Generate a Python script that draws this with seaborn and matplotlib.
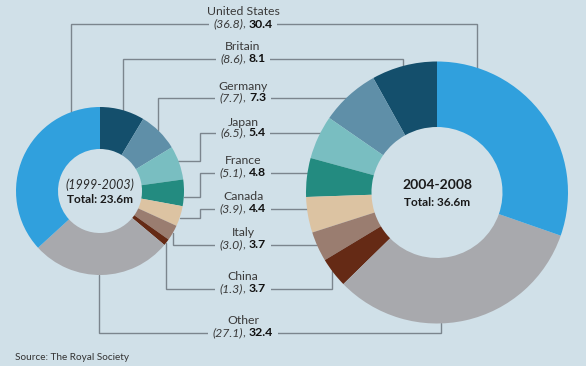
import numpy as np
import matplotlib
matplotlib.use("Agg")
import matplotlib.pyplot as plt
import seaborn as sns
from matplotlib.offsetbox import TextArea, HPacker, AnnotationBbox

# ---------------- data ----------------
countries = ["Britain", "Germany", "Japan", "France", "Canada",
             "Italy", "China", "Other", "United States"]
share_1999_2003 = [8.6, 7.7, 6.5, 5.1, 3.9, 3.0, 1.3, 27.1, 36.8]
share_2004_2008 = [8.1, 7.3, 5.4, 4.8, 4.4, 3.7, 3.7, 32.4, 30.4]
slice_colors = ["#144f6c", "#5f8fa8", "#79bec1", "#238b80", "#dcc3a2",
                "#9a7d70", "#652a15", "#a8a9ad", "#30a0dd"]
periods = ["(1999-2003)", "2004-2008"]
totals = [23.6, 36.6]
source_text = "Source: The Royal Society"

# ---------------- layout (pixels from top-left) ----------------
W, H = 586, 366
BG = "#d0e0e8"
LINE = "#7b858d"
LEFT = dict(cx=100, cy=191, r=84)
RIGHT = dict(cx=437, cy=192.5, r=131)
label_x = 243
name_y = [46.5, 86, 122, 160, 196, 233, 277, 320, 11.5]
value_y = [59, 97.5, 133, 173, 208.5, 244.5, 288.5, 332.5, 24]
left_routes = [("v", 123), ("v", 158), ("hvh", 200, 161), ("hvh", 200, 197),
               ("hvh", 200, 218), ("v", 173), ("v", 166), ("v", 99), ("v", 71)]
right_routes = [("v", 403), ("h",), ("h",), ("h",), ("h",), ("h",),
                ("v", 332), ("v", 441), ("v", 477)]
LFS = 8.8

sns.set_theme(style="white", rc={"axes.facecolor": BG, "figure.facecolor": BG})
plt.rcParams["font.family"] = ["Lato", "DejaVu Sans"]

fig = plt.figure(figsize=(W / 100, H / 100), dpi=100)
ax = fig.add_axes([0, 0, 1, 1])


def Y(p):
    return H - p


palette = sns.color_palette(slice_colors)
ax.pie(share_1999_2003, colors=palette, startangle=90, counterclock=False,
       radius=LEFT["r"], center=(LEFT["cx"], Y(LEFT["cy"])),
       wedgeprops=dict(width=LEFT["r"] * 0.5, linewidth=0, zorder=3))
ax.pie(share_2004_2008, colors=palette, startangle=90, counterclock=True,
       radius=RIGHT["r"], center=(RIGHT["cx"], Y(RIGHT["cy"])),
       wedgeprops=dict(width=RIGHT["r"] * 0.5, linewidth=0, zorder=3))


def circle_y(c, x, toward):
    d = np.sqrt(c["r"] ** 2 - (x - c["cx"]) ** 2)
    return c["cy"] - d if toward < c["cy"] else c["cy"] + d


def circle_x(c, y, toward):
    d = np.sqrt(c["r"] ** 2 - (y - c["cy"]) ** 2)
    return c["cx"] + d if toward > c["cx"] else c["cx"] - d


for i, name in enumerate(countries):
    vy = value_y[i]
    lr = left_routes[i]
    if lr[0] == "v":
        lp = [(label_x, vy), (lr[1], vy), (lr[1], circle_y(LEFT, lr[1], vy))]
    else:
        lp = [(label_x, vy), (lr[1], vy), (lr[1], lr[2]),
              (circle_x(LEFT, lr[2], lr[1]), lr[2])]
    rr = right_routes[i]
    if rr[0] == "h":
        rp = [(label_x, vy), (circle_x(RIGHT, vy, label_x), vy)]
    else:
        rp = [(label_x, vy), (rr[1], vy), (rr[1], circle_y(RIGHT, rr[1], vy))]
    pts = lp[::-1] + rp[1:]
    xs = [p[0] for p in pts]
    ys = [Y(p[1]) for p in pts]
    ax.plot(xs, ys, color=LINE, lw=1.0, solid_joinstyle="miter", zorder=2)

    ax.text(label_x, Y(name_y[i]), name, ha="center", va="center",
            fontsize=LFS, color="#3a3a3a", zorder=5)
    parts = [
        TextArea(f"({share_1999_2003[i]:.1f})",
                 textprops=dict(fontsize=LFS, fontstyle="italic", color="#3a3a3a")),
        TextArea(", ", textprops=dict(fontsize=LFS, color="#3a3a3a")),
        TextArea(f"{share_2004_2008[i]:.1f}",
                 textprops=dict(fontsize=LFS, fontweight="bold", color="#111111")),
    ]
    box = HPacker(children=parts, align="baseline", pad=0, sep=0)
    ab = AnnotationBbox(box, (label_x, Y(vy)), xycoords="data", frameon=True,
                        box_alignment=(0.5, 0.5), pad=0.4, fontsize=8,
                        bboxprops=dict(facecolor=BG, edgecolor="none"))
    ab.set_zorder(4)
    ax.add_artist(ab)

# centre texts
ax.text(LEFT["cx"], Y(185), periods[0], ha="center", va="center",
        fontsize=9, fontstyle="italic", color="#2a2a2a", zorder=5)
ax.text(LEFT["cx"], Y(199.5), f"Total: {totals[0]}m", ha="center", va="center",
        fontsize=8.5, fontweight="bold", color="#1a1a1a", zorder=5)
ax.text(RIGHT["cx"], Y(185), periods[1], ha="center", va="center",
        fontsize=10, fontweight="bold", color="#1a1a1a", zorder=5)
ax.text(RIGHT["cx"], Y(202), f"Total: {totals[1]}m", ha="center", va="center",
        fontsize=8.5, fontweight="bold", color="#1a1a1a", zorder=5)

ax.text(15, Y(357), source_text, ha="left", va="center", fontsize=7.2,
        color="#333333")

ax.set_xlim(0, W)
ax.set_ylim(0, H)
ax.set_aspect("auto")
ax.axis("off")
fig.savefig("out.png", dpi=100, facecolor=BG)
